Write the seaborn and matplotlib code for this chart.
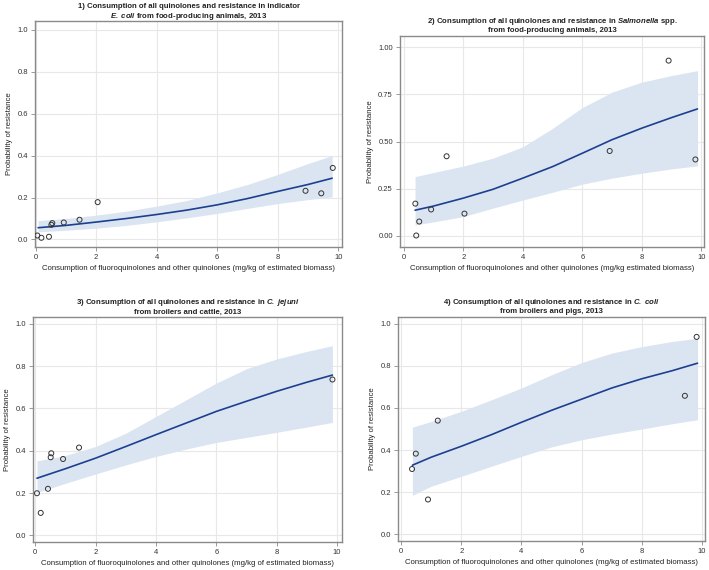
import matplotlib
matplotlib.use('Agg')
import matplotlib.pyplot as plt
import seaborn as sns

fit_x = [0, 1, 2, 3, 4, 5, 6, 7, 8, 9, 10]

# 1) E. coli - observed points
ecoli_x = [0.055, 0.19, 0.44, 0.52, 0.55, 0.93, 1.45, 2.05, 8.92, 9.44, 9.82]
ecoli_y = [0.019, 0.008, 0.013, 0.07, 0.078, 0.081, 0.094, 0.178, 0.232, 0.22, 0.341]
ecoli_fit_x = [0.08, 1, 2, 3, 4, 5, 6, 7, 8, 9, 9.8]
ecoli_fit = [0.056, 0.067, 0.083, 0.1, 0.119, 0.14, 0.165, 0.195, 0.229, 0.262, 0.292]
ecoli_lo = [0.036, 0.044, 0.054, 0.067, 0.084, 0.103, 0.124, 0.148, 0.171, 0.19, 0.203]
ecoli_hi = [0.09, 0.1, 0.116, 0.135, 0.159, 0.186, 0.222, 0.262, 0.31, 0.362, 0.4]

# 2) Salmonella spp.
salm_x = [0.39, 0.42, 0.52, 0.92, 1.44, 2.04, 6.92, 8.9, 9.8]
salm_y = [0.171, 0.002, 0.076, 0.14, 0.422, 0.118, 0.45, 0.929, 0.405]
salm_fit_x = [0.38, 1, 2, 3, 4, 5, 6, 7, 8, 9, 9.87]
salm_fit = [0.136, 0.158, 0.2, 0.247, 0.306, 0.367, 0.438, 0.51, 0.571, 0.627, 0.673]
salm_lo = [0.058, 0.074, 0.102, 0.147, 0.19, 0.231, 0.274, 0.306, 0.332, 0.355, 0.371]
salm_hi = [0.314, 0.336, 0.37, 0.412, 0.472, 0.57, 0.68, 0.762, 0.815, 0.85, 0.876]

# 3) C. jejuni
jej_x = [0.055, 0.18, 0.42, 0.51, 0.53, 0.92, 1.45, 9.85]
jej_y = [0.199, 0.106, 0.22, 0.369, 0.388, 0.361, 0.415, 0.737]
jej_fit_x = [0.055, 1, 2, 3, 4, 5, 6, 7, 8, 9, 9.85]
jej_fit = [0.27, 0.315, 0.365, 0.42, 0.476, 0.531, 0.586, 0.634, 0.681, 0.724, 0.758]
jej_lo = [0.202, 0.246, 0.29, 0.333, 0.373, 0.408, 0.439, 0.463, 0.487, 0.512, 0.534]
jej_hi = [0.352, 0.378, 0.42, 0.483, 0.562, 0.641, 0.72, 0.788, 0.834, 0.87, 0.897]

# 4) C. coli
coli_x = [0.365, 0.49, 0.895, 1.22, 9.43, 9.82]
coli_y = [0.31, 0.383, 0.165, 0.54, 0.658, 0.938]
coli_fit_x = [0.376, 1, 2, 3, 4, 5, 6, 7, 8, 9, 9.85]
coli_fit = [0.328, 0.366, 0.418, 0.473, 0.532, 0.589, 0.642, 0.695, 0.739, 0.777, 0.813]
coli_lo = [0.185, 0.228, 0.275, 0.323, 0.37, 0.415, 0.449, 0.476, 0.5, 0.525, 0.544]
coli_hi = [0.509, 0.536, 0.584, 0.639, 0.695, 0.758, 0.816, 0.861, 0.892, 0.916, 0.932]

sns.set_style('whitegrid')
plt.rcParams['font.family'] = ['Liberation Sans', 'DejaVu Sans']
plt.rcParams['mathtext.fontset'] = 'custom'
plt.rcParams['mathtext.bfit'] = 'Liberation Sans:italic:bold'
plt.rcParams['mathtext.it'] = 'Liberation Sans:italic'

LINE = '#1c3f8f'
BAND = '#dbe5f2'
XLAB = 'Consumption of fluoroquinolones and other quinolones (mg/kg of estimated biomass)'
XLAB2 = 'Consumption of fluoroquinolones and other quinolones (mg/kg estimated biomass)'

fig = plt.figure(figsize=(7.09, 5.70), dpi=100)

panels = [
    dict(pos=[0.049, 0.567, 0.434, 0.396], x=ecoli_x, y=ecoli_y, fx=ecoli_fit_x, f=ecoli_fit,
         lo=ecoli_lo, hi=ecoli_hi, xlim=(-0.03, 10.14), ylim=(-0.035, 1.041),
         yt=[0, 0.2, 0.4, 0.6, 0.8, 1.0], fmt='{:.1f}', xl=XLAB,
         title='1) Consumption of all quinolones and resistance in indicator\n'
               r'$\mathbfit{E.\ coli}$ from food-producing animals, 2013'),
    dict(pos=[0.564, 0.567, 0.429, 0.370], x=salm_x, y=salm_y, fx=salm_fit_x, f=salm_fit,
         lo=salm_lo, hi=salm_hi, xlim=(-0.13, 10.09), ylim=(-0.058, 1.06),
         yt=[0, 0.25, 0.5, 0.75, 1.0], fmt='{:.2f}', xl=XLAB2,
         title=r'2) Consumption of all quinolones and resistance in $\mathbfit{Salmonella}$ spp.'
               '\nfrom food-producing animals, 2013'),
    dict(pos=[0.0465, 0.049, 0.436, 0.395], x=jej_x, y=jej_y, fx=jej_fit_x, f=jej_fit,
         lo=jej_lo, hi=jej_hi, xlim=(-0.077, 10.17), ylim=(-0.032, 1.033),
         yt=[0, 0.2, 0.4, 0.6, 0.8, 1.0], fmt='{:.1f}', xl=XLAB,
         title=r'3) Consumption of all quinolones and resistance in $\mathbfit{C.\ jejuni}$'
               '\nfrom broilers and cattle, 2013'),
    dict(pos=[0.561, 0.051, 0.433, 0.393], x=coli_x, y=coli_y, fx=coli_fit_x, f=coli_fit,
         lo=coli_lo, hi=coli_hi, xlim=(-0.11, 10.09), ylim=(-0.032, 1.033),
         yt=[0, 0.2, 0.4, 0.6, 0.8, 1.0], fmt='{:.1f}', xl=XLAB,
         title=r'4) Consumption of all quinolones and resistance in $\mathbfit{C.\ coli}$'
               '\nfrom broilers and pigs, 2013'),
]

for p in panels:
    ax = fig.add_axes(p['pos'])
    ax.fill_between(p['fx'], p['lo'], p['hi'], color=BAND, linewidth=0, zorder=1)
    sns.lineplot(x=p['fx'], y=p['f'], ax=ax, color=LINE, linewidth=1.2, sort=False, zorder=3)
    sns.scatterplot(x=p['x'], y=p['y'], ax=ax, marker='o', s=13, facecolor='none',
                    edgecolor='#333333', linewidth=0.7, zorder=4)
    ax.set_xlim(*p['xlim'])
    ax.set_ylim(*p['ylim'])
    ax.set_xticks(fit_x[::2])
    ax.set_xticklabels([str(v) for v in fit_x[::2]])
    ax.set_yticks(p['yt'])
    ax.set_yticklabels([p['fmt'].format(v) for v in p['yt']])
    ax.grid(True, color='#e8e8e8', linewidth=0.8)
    ax.set_axisbelow(True)
    for s in ax.spines.values():
        s.set_color('#8a8a8a')
        s.set_linewidth(1.0)
    ax.tick_params(axis='both', labelsize=5.5, labelcolor='#333333', length=3, width=0.6,
                   color='#8a8a8a', left=True, bottom=True, pad=2)
    ax.set_xlabel(p['xl'], fontsize=5.6, color='#222222', labelpad=3)
    ax.set_ylabel('Probability of resistance', fontsize=5.6, color='#222222', labelpad=3)
    ax.set_title(p['title'], fontsize=5.6, fontweight='bold', color='#222222',
                 pad=2.5, linespacing=1.15)

fig.savefig('out.png', dpi=100)
